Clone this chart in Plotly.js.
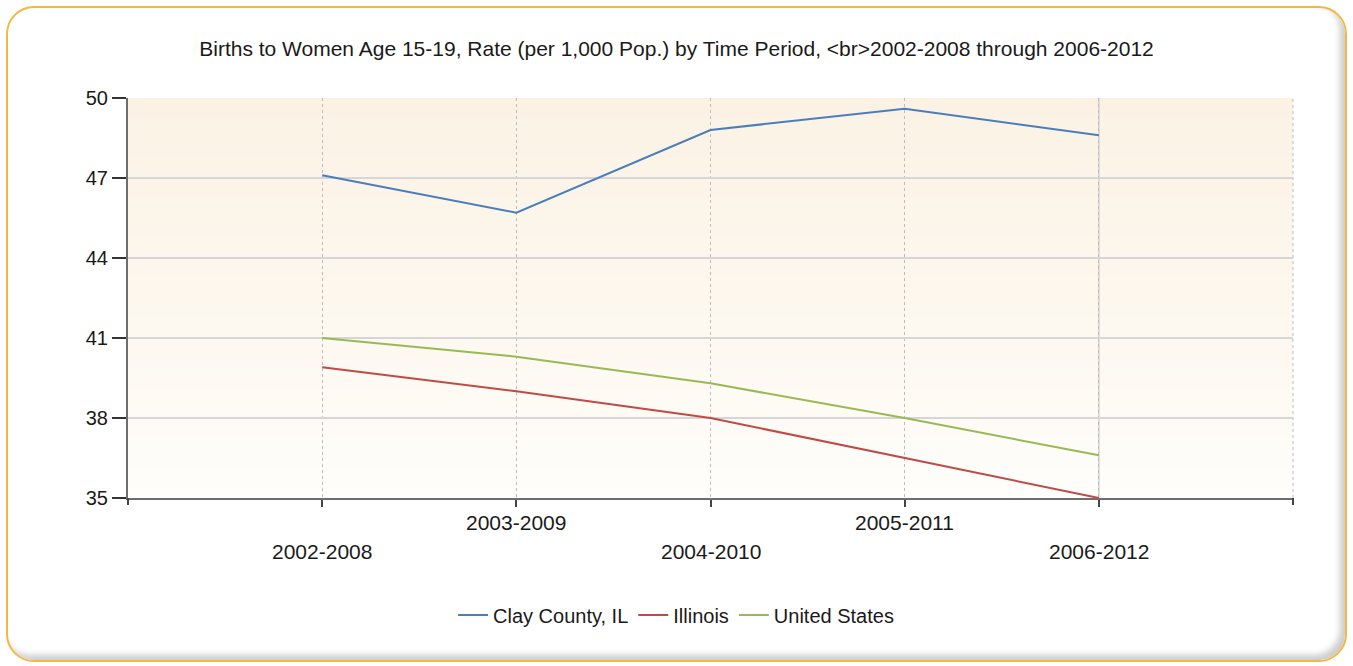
<!DOCTYPE html>
<html>
<head>
<meta charset="utf-8">
<script src="https://cdn.plot.ly/plotly-3.0.1.min.js"></script>
<style>
html,body{margin:0;padding:0;background:#ffffff;width:1353px;height:666px;overflow:hidden;}
#frame{position:absolute;left:6px;top:6px;width:1337px;height:652px;border:2px solid #F2B845;border-radius:28px;
box-shadow:inset -5px -5px 6px rgba(0,0,0,0.2);background:#fff;}
#chart{position:absolute;left:0;top:0;width:1353px;height:666px;}
</style>
</head>
<body>
<div id="frame"></div>
<div id="chart"></div>
<script>
// ---- data ----
const periods = ["2002-2008", "2003-2009", "2004-2010", "2005-2011", "2006-2012"];
const clayCounty = [47.1, 45.7, 48.8, 49.6, 48.6];
const illinois = [39.9, 39.0, 38.0, 36.5, 35.0];
const unitedStates = [41.0, 40.3, 39.3, 38.0, 36.6];
const seriesNames = ["Clay County, IL", "Illinois", "United States"];
const yTicks = [35, 38, 41, 44, 47, 50];
const titleText = "Births to Women Age 15-19, Rate (per 1,000 Pop.) by Time Period, &lt;br&gt;2002-2008 through 2006-2012";

const colors = ["#4A7EBB", "#BE4B48", "#98B954"];
const FONT = "Liberation Sans, Arial, sans-serif";

const traces = [clayCounty, illinois, unitedStates].map((vals, i) => ({
  type: "scatter", mode: "lines", x: periods, y: vals, name: seriesNames[i],
  line: {color: colors[i], width: 2}, hoverinfo: "x+y+name"
}));

// background gradient bands
const shapes = [];
const N = 40;
const topColor = [251, 242, 228], botColor = [255, 254, 252];
for (let i = 0; i < N; i++) {
  const t = Math.pow((i + 0.5) / N, 0.8);
  const c = botColor.map((b, k) => Math.round(b + (topColor[k] - b) * t));
  shapes.push({type: "rect", xref: "x domain", yref: "y domain", x0: 0, x1: 1, y0: i / N, y1: (i + 1) / N,
    fillcolor: `rgb(${c[0]},${c[1]},${c[2]})`, line: {width: 0}, layer: "below"});
}
// solid line at last period, dotted at right edge
shapes.push({type: "line", xref: "x", yref: "y domain", x0: periods[periods.length - 1], x1: periods[periods.length - 1], y0: 0, y1: 1,
  line: {color: "#d0d0d0", width: 1.5}, layer: "below"});
shapes.push({type: "line", xref: "x domain", yref: "y domain", x0: 1, x1: 1, y0: 0, y1: 1,
  line: {color: "#bdbdbd", width: 1, dash: "dot"}, layer: "below"});
// edge ticks on x axis
[0, 1].forEach(xd => shapes.push({type: "line", xref: "x domain", yref: "y domain", ysizemode: "pixel", yanchor: 0,
  x0: xd, x1: xd, y0: 0, y1: -7, line: {color: "#444", width: 2}}));

// staggered x labels
const annotations = periods.map((p, i) => ({
  x: p, xref: "x", y: 0, yref: "y domain", yanchor: "middle", xanchor: "center",
  yshift: i % 2 === 0 ? -53 : -24, showarrow: false, text: p,
  font: {family: FONT, size: 21, color: "#1a1a1a"}
}));

const layout = {
  width: 1353, height: 666,
  paper_bgcolor: "rgba(0,0,0,0)", plot_bgcolor: "rgba(0,0,0,0)",
  margin: {l: 128, r: 60, t: 98, b: 168, autoexpand: false},
  title: {text: titleText, font: {family: FONT, size: 21, color: "#1a1a1a"},
    x: 0.5, xanchor: "center", xref: "container", y: 1 - 49 / 666, yref: "container", yanchor: "middle"},
  xaxis: {type: "category", range: [-1, periods.length], showgrid: true, gridcolor: "#bdbdbd", griddash: "dot", gridwidth: 1,
    showline: true, linecolor: "#6e6e6e", linewidth: 2, ticks: "outside", ticklen: 7, tickwidth: 2, tickcolor: "#444",
    showticklabels: false, zeroline: false, fixedrange: true},
  yaxis: {range: [35, 50], tickvals: yTicks, showgrid: true, gridcolor: "#d6d6d6", gridwidth: 1.5,
    showline: true, linecolor: "#6e6e6e", linewidth: 2, ticks: "outside", ticklen: 14, tickwidth: 2, tickcolor: "#333",
    tickfont: {family: FONT, size: 20, color: "#1a1a1a"}, zeroline: false, fixedrange: true},
  showlegend: true,
  legend: {orientation: "h", x: 0.4704, xanchor: "center", y: -0.2925, yanchor: "middle",
    font: {family: FONT, size: 20, color: "#1a1a1a"}, bgcolor: "rgba(0,0,0,0)"},
  shapes: shapes, annotations: annotations
};

Plotly.newPlot("chart", traces, layout, {displayModeBar: false, staticPlot: true});
</script>
</body>
</html>
